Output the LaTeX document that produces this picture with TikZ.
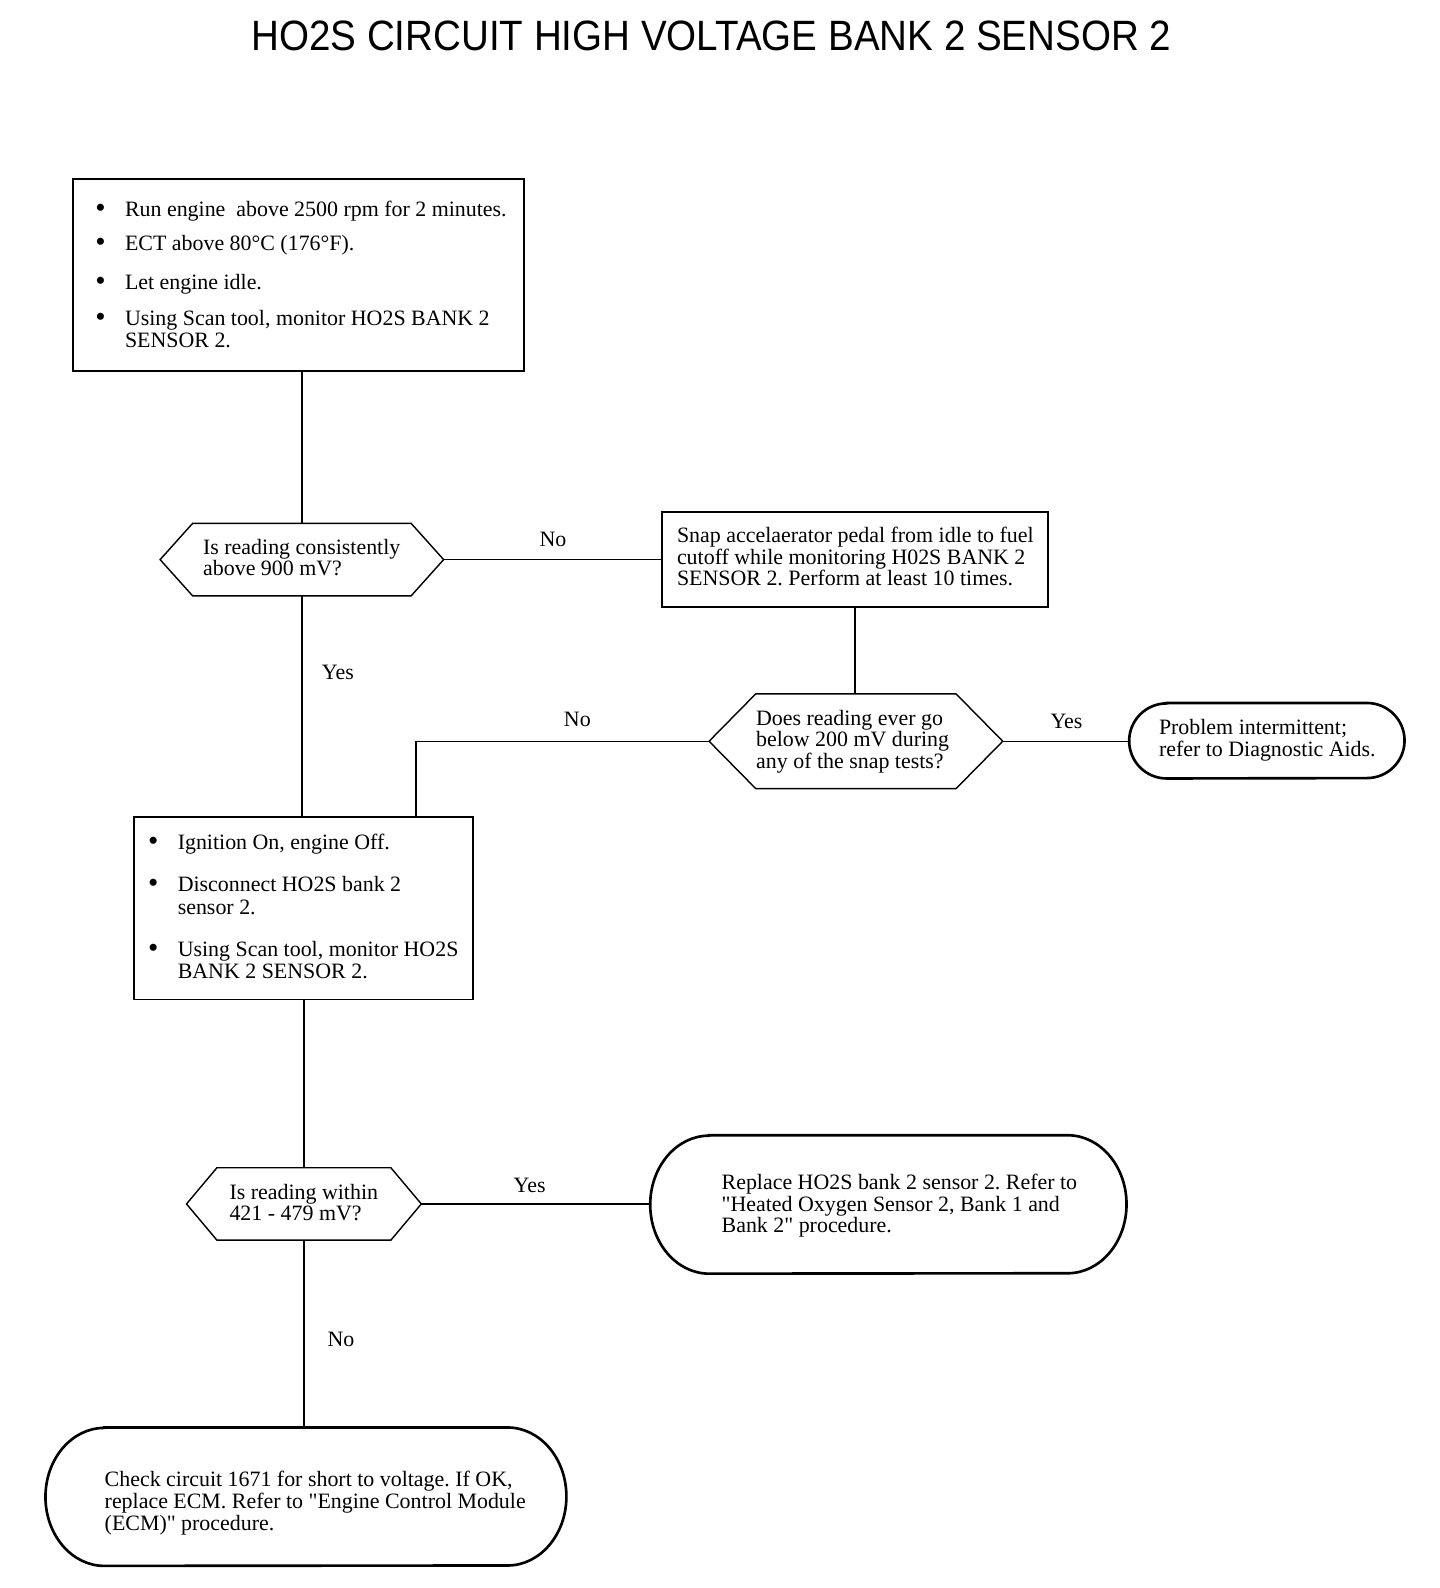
\documentclass[tikz,border=0pt]{standalone}
\usepackage{fontspec}
\setmainfont{Liberation Serif}[Ligatures=TeXOff]
\newfontfamily\titlefont{Liberation Sans}
\usetikzlibrary{calc}
\tikzset{
  boxshape/.style={draw, line width=1.9pt, inner sep=0pt, minimum width=#1},
  hexnode/.style={draw=none, inner sep=0pt},
  hexline/.style={line width=1.4pt},
  termline/.style={line width=2.6pt},
  conn/.style={line width=1.3pt},
  txt/.style={anchor=base west, inner sep=0pt, font=\fontsize{21.6}{22}\selectfont},
  lbl/.style={inner sep=0pt, font=\fontsize{21.6}{22}\selectfont},
  bul/.style={anchor=base, inner sep=0pt, font=\fontsize{29}{22}\selectfont},
}
\newcommand{\hexpath}[2]{%
  \draw[hexline] (#1.west) -- ($(#1.north west)+(#2,0)$) -- ($(#1.north east)+(-#2,0)$) -- (#1.east) -- ($(#1.south east)+(-#2,0)$) -- ($(#1.south west)+(#2,0)$) -- cycle;}
\newcommand{\termpath}[2]{%
  \draw[termline] ($(#1.north west)+(#2,0)$) -- ($(#1.north east)+(-#2,0)$)
    arc[start angle=-90, end angle=90, x radius=#2, y radius=\termry]
    -- ($(#1.south west)+(#2,0)$)
    arc[start angle=90, end angle=270, x radius=#2, y radius=\termry] -- cycle;}
\begin{document}
\frenchspacing
\begin{tikzpicture}[x=1pt,y=-1pt]
\useasboundingbox[fill=white] (0,0) rectangle (1419,1565);

% title
\node[inner sep=0pt, yscale=1.1, font=\titlefont\fontsize{38}{40}\selectfont] (title) at (701,35) {HO2S CIRCUIT HIGH VOLTAGE BANK 2 SENSOR 2};

% shapes
\node[boxshape=444pt, minimum height=190pt] (b1) at (294,271) {};
\node[boxshape=381pt, minimum height=93pt] (b2) at (842.5,551.5) {};
\node[boxshape=334pt, minimum height=180pt] (b3) at (299,895) {};

\node[hexnode, minimum width=279pt, minimum height=71pt] (d1) at (297.5,551.5) {};
\node[hexnode, minimum width=289pt, minimum height=93pt] (d2) at (843.5,730.5) {};
\node[hexnode, minimum width=231pt, minimum height=71pt] (d3) at (299.5,1186.5) {};
\hexpath{d1}{32}
\hexpath{d2}{46}
\hexpath{d3}{30}

\node[hexnode, minimum width=271pt, minimum height=74pt] (p) at (1248.5,730) {};
\node[hexnode, minimum width=469pt, minimum height=136pt] (r) at (875.5,1187) {};
\node[hexnode, minimum width=513pt, minimum height=136pt] (c) at (301.5,1475) {};
\def\termry{37}\termpath{p}{37}
\def\termry{68}\termpath{r}{58}
\def\termry{68}\termpath{c}{58}

% connectors
\coordinate (c1) at (410,805);
\draw[conn] (d1.north |- b1.south) -- (d1.north);
\draw[conn] (d1.east) -- (d1.east -| b2.west);
\draw[conn] (b2.south) -- (b2.south |- d2.north);
\draw[conn] (d2.east) -- (d2.east -| p.west);
\draw[conn] (d2.west) -| (c1);
\draw[conn] (d1.south) -- (d1.south |- b3.north);
\draw[conn] (d3.north |- b3.south) -- (d3.north);
\draw[conn] (d3.east) -- (d3.east -| r.west);
\draw[conn] (d3.south) -- (d3.south |- c.north);

% labels
\node[lbl] (l1) at (545,532) {No};
\node[lbl] (l2) at (333,663) {Yes};
\node[lbl] (l3) at (569,709) {No};
\node[lbl] (l4) at (1051,711) {Yes};
\node[lbl] (l5) at (522,1168) {Yes};
\node[lbl] (l6) at (336,1320) {No};

% box 1 text
\node[bul] (u1) at (99,214) {•};
\node[txt] (t1) at (123,213) {Run engine\ \ above 2500 rpm for 2 minutes.};
\node[bul] (u2) at (99,248) {•};
\node[txt] (t2) at (123,247) {ECT above 80°C (176°F).};
\node[bul] (u3) at (99,286) {•};
\node[txt] (t3) at (123,285) {Let engine idle.};
\node[bul] (u4) at (99,322) {•};
\node[txt] (t4) at (123,321) {Using Scan tool, monitor HO2S BANK 2};
\node[txt] (t5) at (123,342) {SENSOR 2.};

% box 2 text
\node[txt] (s1) at (667,535) {Snap accelaerator pedal from idle to fuel};
\node[txt] (s2) at (667,556) {cutoff while monitoring H02S BANK 2};
\node[txt] (s3) at (667,577) {SENSOR 2. Perform at least 10 times.};

% diamond 1 text
\node[txt] (q1) at (200,546) {Is reading consistently};
\node[txt] (q2) at (200,567) {above 900 mV?};

% diamond 2 text
\node[txt] (e1) at (745,715) {Does reading ever go};
\node[txt] (e2) at (745,736) {below 200 mV during};
\node[txt] (e3) at (745,757) {any of the snap tests?};

% terminal p text
\node[txt] (p1) at (1142,724) {Problem intermittent;};
\node[txt] (p2) at (1142,746) {refer to Diagnostic Aids.};

% box 3 text
\node[bul] (v1) at (151,838) {•};
\node[txt] (g1) at (175,837) {Ignition On, engine Off.};
\node[bul] (v2) at (151,880) {•};
\node[txt] (g2) at (175,879) {Disconnect HO2S bank 2};
\node[txt] (g3) at (175,901) {sensor 2.};
\node[bul] (v3) at (151,944) {•};
\node[txt] (g4) at (175,943) {Using Scan tool, monitor HO2S};
\node[txt] (g5) at (175,964) {BANK 2 SENSOR 2.};

% diamond 3 text
\node[txt] (w1) at (226,1182) {Is reading within};
\node[txt] (w2) at (226,1203) {421 - 479 mV?};

% terminal r text
\node[txt] (r1) at (711,1172) {Replace HO2S bank 2 sensor 2. Refer to};
\node[txt] (r2) at (711,1194) {"Heated Oxygen Sensor 2, Bank 1 and};
\node[txt] (r3) at (711,1215) {Bank 2" procedure.};

% terminal c text
\node[txt] (k1) at (103,1465) {Check circuit 1671 for short to voltage. If OK,};
\node[txt] (k2) at (103,1487) {replace ECM. Refer to "Engine Control Module};
\node[txt] (k3) at (103,1508) {(ECM)" procedure.};
\end{tikzpicture}
\end{document}
